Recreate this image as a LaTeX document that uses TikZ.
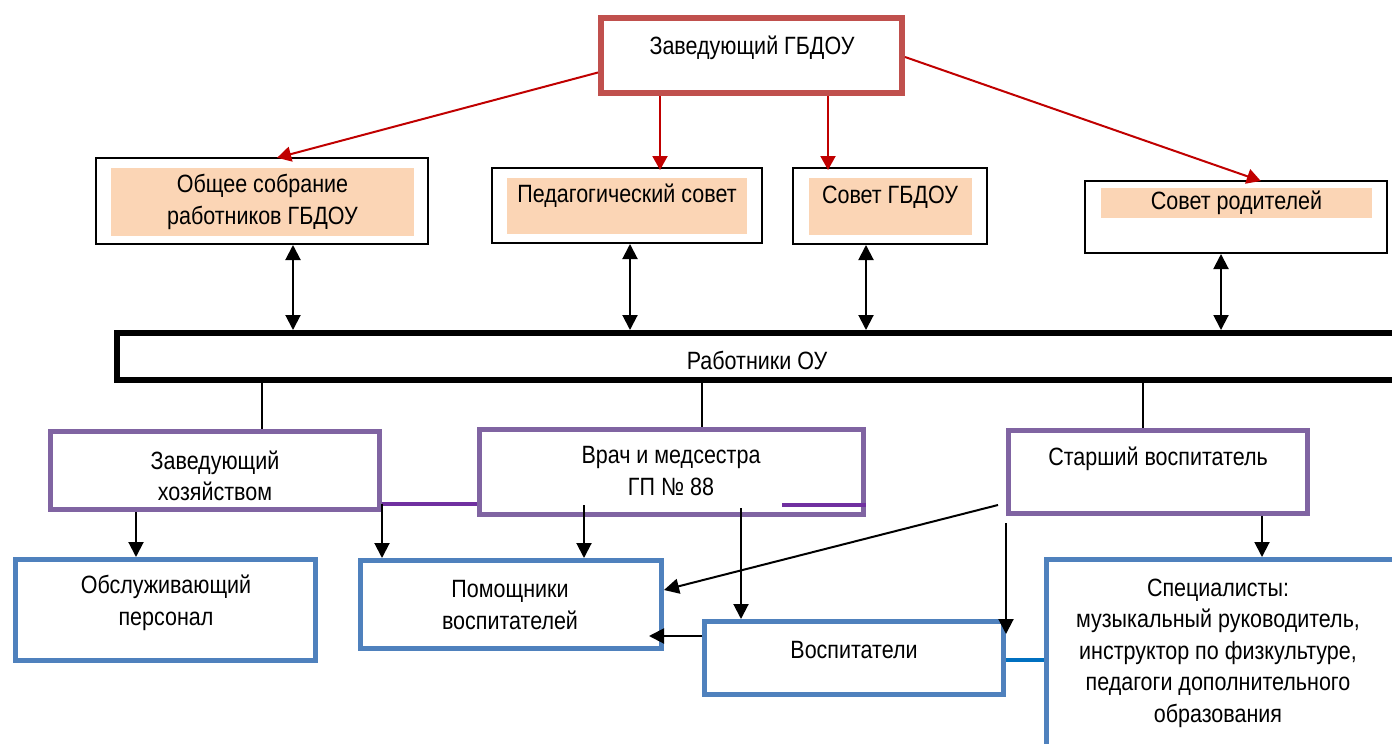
\documentclass[tikz,border=0pt]{standalone}
\usepackage{fontspec}
\setmainfont{Liberation Sans}[FakeStretch=0.86]
\usetikzlibrary{calc,arrows.meta}
\definecolor{redbox}{HTML}{C0504D}
\definecolor{redarr}{HTML}{C00000}
\definecolor{peach}{HTML}{FBD5B5}
\definecolor{purbox}{HTML}{8064A2}
\definecolor{purline}{HTML}{7030A0}
\definecolor{bluebox}{HTML}{4F81BD}
\definecolor{blueline}{HTML}{0070C0}
\tikzset{
  every node/.style={font=\fontsize{25}{31.5}\selectfont, inner sep=0pt},
  redframe/.style={draw=redbox, line width=6pt, fill=white},
  blkframe/.style={draw=black, line width=2pt, fill=white},
  mainframe/.style={draw=black, line width=6pt, fill=white},
  purframe/.style={draw=purbox, line width=5pt, fill=white},
  blueframe/.style={draw=bluebox, line width=5pt, fill=white},
  peachfill/.style={fill=peach},
  lbl/.style={align=center},
  redarrow/.style={draw=redarr, line width=2pt, -{Triangle[length=14pt,width=15pt]}, shorten >=-3pt},
  dblarrow/.style={draw=black, line width=2pt, {Triangle[length=15pt,width=15pt]}-{Triangle[length=15pt,width=15pt]}},
  blkarrow/.style={draw=black, line width=2pt, -{Triangle[length=15pt,width=15pt]}},
  thinline/.style={draw=black, line width=1.2pt},
  purconn/.style={draw=purline, line width=4pt},
  blueconn/.style={draw=blueline, line width=4pt},
}
\begin{document}
\begin{tikzpicture}[x=1pt,y=-1pt]
\useasboundingbox (0,0) rectangle (1392,744);
% top
\node[redframe, minimum width=301, minimum height=75] (zav) at (751.5,55.5) {};
\node[lbl] (zavt) at (752,48) {Заведующий ГБДОУ};
% councils
\node[blkframe, minimum width=332, minimum height=86] (obs) at (262,201) {};
\node[peachfill, minimum width=303, minimum height=68, lbl] (obst) at (262.5,202) {Общее собрание\\работников ГБДОУ};
\node[blkframe, minimum width=270, minimum height=75] (ped) at (627,205.5) {};
\node[peachfill, minimum width=240, minimum height=56] (pedf) at (627,206) {};
\node[lbl] (pedt) at (627,196) {Педагогический совет};
\node[blkframe, minimum width=194, minimum height=76] (sov) at (890,206) {};
\node[peachfill, minimum width=163, minimum height=57] (sovf) at (890.5,206.5) {};
\node[lbl] (sovt) at (890,197) {Совет ГБДОУ};
\node[blkframe, minimum width=302, minimum height=72] (rod) at (1236,217) {};
\node[peachfill, minimum width=271, minimum height=30, lbl] (rodt) at (1236.5,203) {Совет родителей};
% main bar
\node[mainframe, minimum width=1300, minimum height=47] (rab) at (766.5,356.5) {};
\node[lbl] (rabt) at (757,360) {Работники ОУ};
% purple level
\node[purframe, minimum width=329, minimum height=78] (zx) at (215,470.5) {};
\node[lbl] (zxt) at (215,476) {Заведующий\\хозяйством};
\node[purframe, minimum width=384, minimum height=85] (vr) at (671.5,472) {};
\node[lbl] (vrt) at (671,471) {Врач и медсестра\\ГП № 88};
\node[purframe, minimum width=299, minimum height=83] (st) at (1158,472) {};
\node[lbl] (stt) at (1158,459) {Старший воспитатель};
% blue level
\node[blueframe, minimum width=300, minimum height=101] (ob) at (165.5,610) {};
\node[lbl] (obt) at (166,603) {Обслуживающий\\персонал};
\node[blueframe, minimum width=301, minimum height=88] (pom) at (511,604.5) {};
\node[lbl] (pomt) at (510,605) {Помощники\\воспитателей};
\node[blueframe, minimum width=299, minimum height=73] (vos) at (854,658) {};
\node[lbl] (vost) at (854,650) {Воспитатели};
\node[blueframe, minimum width=380, minimum height=240] (spec) at (1236.5,679.5) {};
\node[lbl] (spect) at (1218,653) {Специалисты:\\музыкальный руководитель,\\инструктор по физкультуре,\\педагоги дополнительного\\образования};
% red arrows
\draw[redarrow] ($(zav.west)+(0,17)$) -- ($(obs.north)+(18,0)$);
\draw[redarrow] ($(zav.south)+(-91.5,0)$) -- ($(ped.north)+(33,0)$);
\draw[redarrow] ($(zav.south)+(76.5,0)$) -- ($(sov.north)+(-62,0)$);
\draw[redarrow] ($(zav.east)+(0,1.5)$) -- ($(rod.north)+(22,0)$);
% double arrows
\coordinate (d1) at ($(obs.south)+(31,0)$);
\coordinate (d2) at ($(ped.south)+(3,0)$);
\coordinate (d3) at ($(sov.south)+(-24,0)$);
\coordinate (d4) at ($(rod.south)+(-15,0)$);
\draw[dblarrow] (d1) -- (d1 |- rab.north);
\draw[dblarrow] (d2) -- (d2 |- rab.north);
\draw[dblarrow] (d3) -- (d3 |- rab.north);
\draw[dblarrow] (d4) -- (d4 |- rab.north);
% lines down
\coordinate (l1) at ($(zx.north)+(47,0)$);
\coordinate (l2) at ($(vr.north)+(30.5,0)$);
\coordinate (l3) at ($(st.north)+(-15,0)$);
\draw[thinline] (l1 |- rab.south) -- (l1);
\draw[thinline] (l2 |- rab.south) -- (l2);
\draw[thinline] (l3 |- rab.south) -- (l3);
% purple connectors
\coordinate (p1) at ($(zx.east)+(0,33.5)$);
\coordinate (p2) at ($(vr.east)+(0,32.5)$);
\coordinate (p3) at ($(p2)+(-84,0)$);
\draw[purconn] (p1) -- (p1 -| vr.west);
\draw[purconn] (p3) -- (p2);
% black arrows
\coordinate (b1) at ($(zx.south)+(-79,0)$);
\draw[blkarrow] (b1) -- (b1 |- ob.north);
\draw[blkarrow] (p1) -- (p1 |- pom.north);
\coordinate (b3) at ($(vr.south)+(-87.5,-12)$);
\draw[blkarrow] (b3) -- (b3 |- pom.north);
\coordinate (b4) at ($(vr.south)+(69.5,-9)$);
\draw[blkarrow] (b4) -- (b4 |- vos.north);
\draw[blkarrow] ($(st.west)+(-8,33)$) -- ($(pom.east)+(0,-14.5)$);
\coordinate (b6) at ($(st.south)+(-152,7)$);
\coordinate (b6e) at ($(vos.north east)+(0,15)$);
\draw[blkarrow] (b6) -- (b6e);
\coordinate (b7) at ($(st.south)+(104,0)$);
\draw[blkarrow] (b7) -- (b7 |- spec.north);
\coordinate (b8) at ($(vos.west)+(0,-22)$);
\draw[blkarrow] (b8) -- ($(pom.east)+(-15,31.5)$);
% blue connector
\coordinate (bl) at ($(vos.east)+(0,2)$);
\draw[blueconn] (bl) -- (bl -| spec.west);
\end{tikzpicture}
\end{document}
